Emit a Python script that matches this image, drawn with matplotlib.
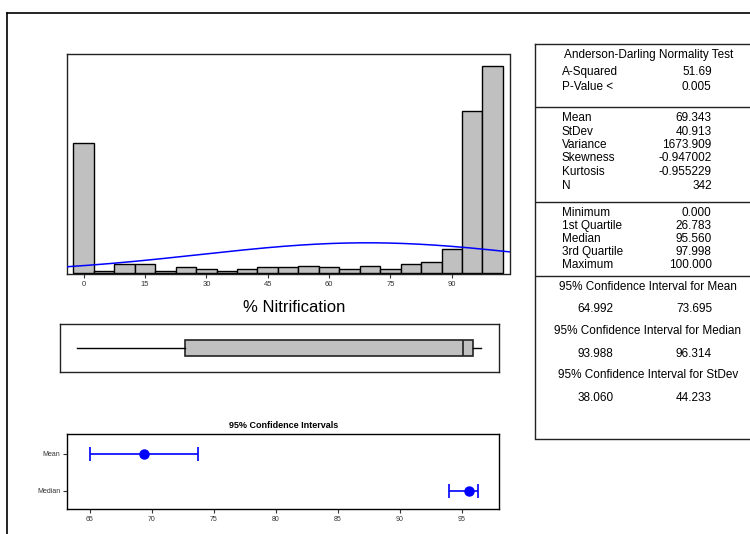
import matplotlib.pyplot as plt
import numpy as np
from matplotlib.lines import Line2D

plt.rcParams['font.family'] = ['Liberation Sans', 'DejaVu Sans']

# histogram counts, bins centred on 0, 5, ..., 100
bin_centers = np.arange(0, 101, 5)
counts = [72, 1, 5, 5, 1, 3, 2, 1, 2, 3, 3, 4, 3, 2, 4, 2, 5, 6, 13, 90, 115]
hist_ticks = [0, 15, 30, 45, 60, 75, 90]

n_obs = 342
mean = 69.343
stdev = 40.913
q_min, q1, median, q3, q_max = 0.000, 26.783, 95.560, 97.998, 100.000
ci_mean = (64.992, 73.695)
ci_median = (93.988, 96.314)
ci_ticks = [65, 70, 75, 80, 85, 90, 95]

stats_ad = [("A-Squared", "51.69"), ("P-Value <", "0.005")]
stats_mom = [("Mean", "69.343"), ("StDev", "40.913"), ("Variance", "1673.909"),
             ("Skewness", "-0.947002"), ("Kurtosis", "-0.955229"), ("N", "342")]
stats_q = [("Minimum", "0.000"), ("1st Quartile", "26.783"), ("Median", "95.560"),
           ("3rd Quartile", "97.998"), ("Maximum", "100.000")]
stats_ci = [("95% Confidence Interval for Mean", "64.992", "73.695"),
            ("95% Confidence Interval for Median", "93.988", "96.314"),
            ("95% Confidence Interval for StDev", "38.060", "44.233")]

W, H = 750, 534
fig = plt.figure(figsize=(7.5, 5.34), dpi=100)


def px_axes(l, t, r, b):
    return fig.add_axes([l / W, 1 - b / H, (r - l) / W, (b - t) / H])


# outer frame (top and left only, rest runs off the image)
fig.add_artist(Line2D([6.7 / W, 1], [1 - 12.7 / H, 1 - 12.7 / H], color='black', lw=1.2))
fig.add_artist(Line2D([6.7 / W, 6.7 / W], [0, 1 - 12.7 / H], color='black', lw=1.2))

gray = '#c0c0c0'
edge = '#222222'

# ---------------- histogram ----------------
ax = px_axes(67, 54, 509.5, 274)
ax.bar(bin_centers, counts, width=5, color=gray, edgecolor='black', linewidth=1.0, zorder=2)
xx = np.linspace(-4, 104, 400)
yy = n_obs * 5 * np.exp(-0.5 * ((xx - mean) / stdev) ** 2) / (stdev * np.sqrt(2 * np.pi))
ax.plot(xx, yy, color='#0000ff', lw=1.1, zorder=3)
ax.set_xlim(-4.06, 104.1)
ax.set_ylim(-0.7, 121.8)
ax.set_yticks([])
ax.set_xticks(hist_ticks)
ax.tick_params(axis='x', labelsize=5.5, length=3, width=0.8, colors='#333333', pad=2)
for s in ax.spines.values():
    s.set_color(edge)
    s.set_linewidth(1.0)
fig.text(294 / W, 1 - 307 / H, "% Nitrification", ha='center', va='center', fontsize=12)

# ---------------- boxplot ----------------
axb = px_axes(60, 323.5, 499, 372)
axb.bxp([{'whislo': q_min, 'q1': q1, 'med': median, 'q3': q3, 'whishi': q_max}],
        positions=[0], widths=0.64, vert=False, showfliers=False, showcaps=False,
        patch_artist=True,
        boxprops=dict(facecolor=gray, edgecolor=edge, linewidth=1.2),
        medianprops=dict(color=edge, linewidth=1.2),
        whiskerprops=dict(color='black', linewidth=1.0))
axb.set_xlim(-4.13, 104.4)
axb.set_ylim(-1, 1)
axb.set_xticks([])
axb.set_yticks([])
for s in axb.spines.values():
    s.set_color(edge)
    s.set_linewidth(1.0)

# ---------------- confidence intervals ----------------
axc = px_axes(67.3, 434, 499, 509.3)
axc.errorbar([mean], [1], xerr=[[mean - ci_mean[0]], [ci_mean[1] - mean]],
             fmt='o', color='#0000ff', ms=6.5, capsize=5, elinewidth=1.2, capthick=1.2)
axc.errorbar([median], [0], xerr=[[median - ci_median[0]], [ci_median[1] - median]],
             fmt='o', color='#0000ff', ms=6.5, capsize=5, elinewidth=1.2, capthick=1.2)
axc.set_xlim(63.17, 98.0)
axc.set_ylim(-0.507, 1.545)
axc.set_yticks([1, 0])
axc.set_yticklabels(["Mean", "Median"])
axc.set_xticks(ci_ticks)
axc.tick_params(labelsize=5, length=3, width=0.8, colors='#333333', pad=2)
for s in axc.spines.values():
    s.set_color('black')
    s.set_linewidth(1.0)
axc.set_title("95% Confidence Intervals", fontsize=6.5, fontweight='bold', pad=4)

# ---------------- stats table ----------------
axt = px_axes(535, 44, 751, 438.5)
axt.set_xlim(535, 751)
axt.set_ylim(438.5, 44)
axt.set_xticks([])
axt.set_yticks([])
axt.spines['right'].set_visible(False)
for s in ['left', 'top', 'bottom']:
    axt.spines[s].set_color(edge)
    axt.spines[s].set_linewidth(1.0)
for yd in [107.3, 202.3, 275.7]:
    axt.axhline(yd, color=edge, lw=1.0)

fs = 8.5
lab_x, val_x = 561.7, 711.7
axt.text(649, 55, "Anderson-Darling Normality Test", ha='center', va='center', fontsize=fs)
for (lab, val), y in zip(stats_ad, [71.7, 86.7]):
    axt.text(lab_x, y, lab, ha='left', va='center', fontsize=fs)
    axt.text(val_x, y, val, ha='right', va='center', fontsize=fs)
for (lab, val), y in zip(stats_mom, [118.3, 131.7, 145, 158.3, 171.7, 185.7]):
    axt.text(lab_x, y, lab, ha='left', va='center', fontsize=fs)
    axt.text(val_x, y, val, ha='right', va='center', fontsize=fs)
for (lab, val), y in zip(stats_q, [213.3, 226, 239, 252.3, 265]):
    axt.text(lab_x, y, lab, ha='left', va='center', fontsize=fs)
    axt.text(val_x, y, val, ha='right', va='center', fontsize=fs)
for (lab, lo, hi), (yh, yv) in zip(stats_ci, [(286.7, 309.3), (331, 354), (375, 398.3)]):
    axt.text(648, yh, lab, ha='center', va='center', fontsize=fs)
    axt.text(595.7, yv, lo, ha='center', va='center', fontsize=fs)
    axt.text(694, yv, hi, ha='center', va='center', fontsize=fs)

fig.savefig("out.png", dpi=100)
